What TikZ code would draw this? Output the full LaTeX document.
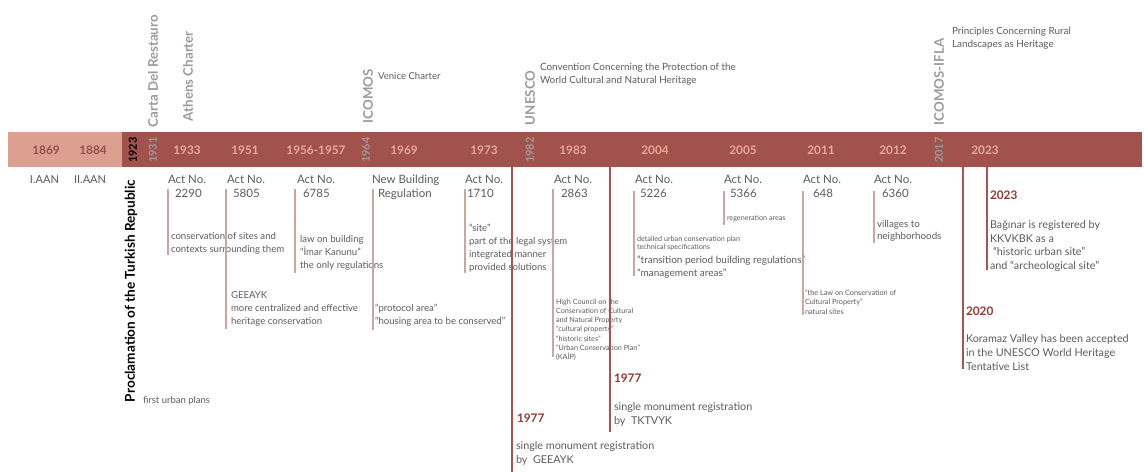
\documentclass[tikz,border=0pt]{standalone}
\usepackage{fontspec}
\setmainfont{Lato}
\definecolor{barlt}{RGB}{219,160,144}
\definecolor{bardk}{RGB}{162,82,76}
\definecolor{yrdk}{RGB}{150,80,70}
\definecolor{yrlt}{RGB}{232,170,152}
\definecolor{lblgray}{RGB}{155,155,155}
\definecolor{txt}{RGB}{92,92,96}
\definecolor{actcol}{RGB}{205,165,160}
\definecolor{longcol}{RGB}{165,85,80}
\definecolor{redyr}{RGB}{145,58,48}
\newcommand\stk[1]{\begin{tabular}[t]{@{}l@{}}#1\end{tabular}}
\begin{document}
\begin{tikzpicture}[x=1pt,y=-1pt,
  every node/.style={inner sep=0pt, outer sep=0pt},
  baryr/.style={text=yrlt, font=\fontsize{11.8}{12}\selectfont\bfseries},
  baryrdk/.style={text=yrdk, font=\fontsize{11.8}{12}\selectfont\bfseries},
  rotyr/.style={rotate=90, text=lblgray, font=\fontsize{11}{12}\selectfont\bfseries},
  rotlbl/.style={rotate=90, anchor=west, text=lblgray, font=\fontsize{13.3}{15}\selectfont\bfseries},
  actno/.style={anchor=base west, text=txt, font=\fontsize{11.5}{14}\selectfont},
  body/.style={anchor=base west, text=txt, font=\fontsize{9.6}{13}\selectfont},
  small/.style={anchor=base west, text=txt, font=\fontsize{7.2}{9.3}\selectfont},
  big/.style={anchor=base west, text=txt, font=\fontsize{10.8}{14}\selectfont},
  redhead/.style={anchor=base west, text=redyr, font=\fontsize{11.8}{13}\selectfont\bfseries},
  actln/.style={draw=actcol, line width=1.3pt},
  longln/.style={draw=longcol, line width=1.8pt}
]
\useasboundingbox (0,0) rectangle (1144,472);

% timeline band
\fill[barlt] (8,132) rectangle (122,167);
\fill[bardk] (122,132) rectangle (1142,167);

% years on the band
\node[baryrdk] (y1869) at (46,150) {1869};
\node[baryrdk] (y1884) at (93,150) {1884};
\node[rotyr, text=black] (y1923) at (133,150) {1923};
\node[rotyr] (y1931) at (153,150) {1931};
\node[baryr] (y1933) at (187,150) {1933};
\node[baryr] (y1951) at (245,150) {1951};
\node[baryr] (y1956) at (316,150) {1956-1957};
\node[rotyr] (y1964) at (366,150) {1964};
\node[baryr] (y1969) at (404,150) {1969};
\node[baryr] (y1973) at (484,150) {1973};
\node[rotyr] (y1982) at (530,150) {1982};
\node[baryr] (y1983) at (573,150) {1983};
\node[baryr] (y2004) at (655,150) {2004};
\node[baryr] (y2005) at (743,150) {2005};
\node[baryr] (y2011) at (821,150) {2011};
\node[baryr] (y2012) at (893,150) {2012};
\node[rotyr] (y2017) at (939,150) {2017};
\node[baryr] (y2023) at (985,150) {2023};

% international documents above the band
\node[rotlbl] (carta) at (153,127) {Carta Del Restauro};
\node[rotlbl] (athens) at (188,121) {Athens Charter};
\node[rotlbl] (icomos) at (368,123) {ICOMOS};
\node[rotlbl] (unesco) at (530,125) {UNESCO};
\node[rotlbl] (ifla) at (939,125) {ICOMOS-IFLA};
\node[body, font=\fontsize{9.6}{13}\selectfont] (venice) at (378,79) {Venice Charter};
\node[body, font=\fontsize{9.9}{13.4}\selectfont] (conv) at (540,70) {\stk{Convention Concerning the Protection of the\\World Cultural and Natural Heritage}};
\node[body, font=\fontsize{9.9}{13}\selectfont] (rural) at (952,34) {\stk{Principles Concerning Rural\\Landscapes as Heritage}};

% early period
\node[actno, font=\fontsize{11}{13}\selectfont] (aan1) at (30,183) {I.AAN};
\node[actno, font=\fontsize{11}{13}\selectfont] (aan2) at (74,183) {II.AAN};
\node[rotate=90, anchor=west, text=black, font=\fontsize{13.6}{15}\selectfont\bfseries] (procl) at (131,402) {Proclamation of the Turkish Republic};
\node[body, font=\fontsize{9.5}{12}\selectfont] (urban) at (143,403) {first urban plans};

% Act No. 2290
\node[actno] (a2290) at (168,183) {Act No.};
\node[actno] (n2290) at (175,197) {2290};
\coordinate (l2290t) at (168,189); \coordinate (l2290b) at (168,255);
\draw[actln] (l2290t) -- (l2290b);
\node[body] (t2290) at (171,239) {\stk{conservation of sites and\\contexts surrounding them}};

% Act No. 5805
\node[actno] (a5805) at (227,183) {Act No.};
\node[actno] (n5805) at (233,197) {5805};
\coordinate (l5805t) at (226,189); \coordinate (l5805b) at (226,329);
\draw[actln] (l5805t) -- (l5805b);
\node[body] (t5805) at (231,298) {\stk{GEEAYK\\more centralized and effective\\heritage conservation}};

% Act No. 6785
\node[actno] (a6785) at (297,183) {Act No.};
\node[actno] (n6785) at (303,197) {6785};
\coordinate (l6785t) at (295,189); \coordinate (l6785b) at (295,273);
\draw[actln] (l6785t) -- (l6785b);
\node[body] (t6785) at (300,242) {\stk{law on building\\“İmar Kanunu”\\the only regulations}};

% New Building Regulation
\node[actno] (anbr) at (372,183) {New Building};
\node[actno] (nnbr) at (378,197) {Regulation};
\coordinate (lnbrt) at (373,189); \coordinate (lnbrb) at (373,330);
\draw[actln] (lnbrt) -- (lnbrb);
\node[body] (tnbr) at (375,311) {\stk{“protocol area”\\“housing area to be conserved”}};

% Act No. 1710
\node[actno] (a1710) at (465,183) {Act No.};
\node[actno] (n1710) at (467,197) {1710};
\coordinate (l1710t) at (465,189); \coordinate (l1710b) at (465,273);
\draw[actln] (l1710t) -- (l1710b);
\node[body] (t1710) at (469,231) {\stk{“site”\\part of the legal system\\integrated manner\\provided solutions}};

% 1977, GEEAYK
\coordinate (g1t) at (512,167); \coordinate (g1b) at (512,472);
\draw[longln] (g1t) -- (g1b);
\node[redhead] (h1977a) at (517,422) {1977};
\node[big] (t1977a) at (516,449) {\stk{single monument registration\\by\ \ GEEAYK}};

% Act No. 2863
\node[actno] (a2863) at (554,183) {Act No.};
\node[actno] (n2863) at (561,197) {2863};
\coordinate (l2863t) at (553,189); \coordinate (l2863b) at (553,357);
\draw[actln] (l2863t) -- (l2863b);
\node[small] (t2863) at (556,304) {\stk{High Council on the\\Conservation of Cultural\\and Natural Property\\“cultural property”\\“historic sites”\\“Urban Conservation Plan”\\(KAİP)}};

% 1977, TKTVYK
\coordinate (g2t) at (610,167); \coordinate (g2b) at (610,432);
\draw[longln] (g2t) -- (g2b);
\node[redhead] (h1977b) at (614,382) {1977};
\node[big] (t1977b) at (614,410) {\stk{single monument registration\\by\ \ TKTVYK}};

% Act No. 5226
\node[actno] (a5226) at (635,183) {Act No.};
\node[actno] (n5226) at (640,197) {5226};
\coordinate (l5226t) at (634,191); \coordinate (l5226b) at (634,276);
\draw[actln] (l5226t) -- (l5226b);
\node[small, font=\fontsize{7.2}{8.3}\selectfont] (s5226) at (637,241.5) {\stk{detailed urban conservation plan\\technical specifications}};
\node[body, font=\fontsize{10}{13}\selectfont] (t5226) at (637,263) {\stk{“transition period building regulations”\\“management areas”}};

% Act No. 5366
\node[actno] (a5366) at (724,183) {Act No.};
\node[actno] (n5366) at (730,197) {5366};
\coordinate (l5366t) at (724,191); \coordinate (l5366b) at (724,225);
\draw[actln] (l5366t) -- (l5366b);
\node[small] (t5366) at (727,220.5) {regeneration areas};

% Act No. 648
\node[actno] (a648) at (803,183) {Act No.};
\node[actno] (n648) at (813,197) {648};
\coordinate (l648t) at (803,191); \coordinate (l648b) at (803,315);
\draw[actln] (l648t) -- (l648b);
\node[small, font=\fontsize{7.3}{9.5}\selectfont] (t648) at (805,295) {\stk{“the Law on Conservation of\\Cultural Property”\\natural sites}};

% Act No. 6360
\node[actno] (a6360) at (874,183) {Act No.};
\node[actno] (n6360) at (882,197) {6360};
\coordinate (l6360t) at (874,191); \coordinate (l6360b) at (874,243);
\draw[actln] (l6360t) -- (l6360b);
\node[body, font=\fontsize{9.8}{12}\selectfont] (t6360) at (877,227) {\stk{villages to\\neighborhoods}};

% 2020, Koramaz Valley
\coordinate (g3t) at (963,167); \coordinate (g3b) at (963,369);
\draw[longln] (g3t) -- (g3b);
\node[redhead] (h2020) at (966,315) {2020};
\node[big] (t2020) at (966,342) {\stk{Koramaz Valley has been accepted\\in the UNESCO World Heritage\\Tentative List}};

% 2023, Bağınar
\coordinate (g4t) at (987,167); \coordinate (g4b) at (987,270);
\draw[longln] (g4t) -- (g4b);
\node[redhead] (h2023) at (990,199) {2023};
\node[big, font=\fontsize{10.8}{13.7}\selectfont] (t2023) at (990,228.5) {\stk{Bağınar is registered by\\KKVKBK as a\\\hspace{3pt}“historic urban site”\\and “archeological site”}};
\end{tikzpicture}
\end{document}
